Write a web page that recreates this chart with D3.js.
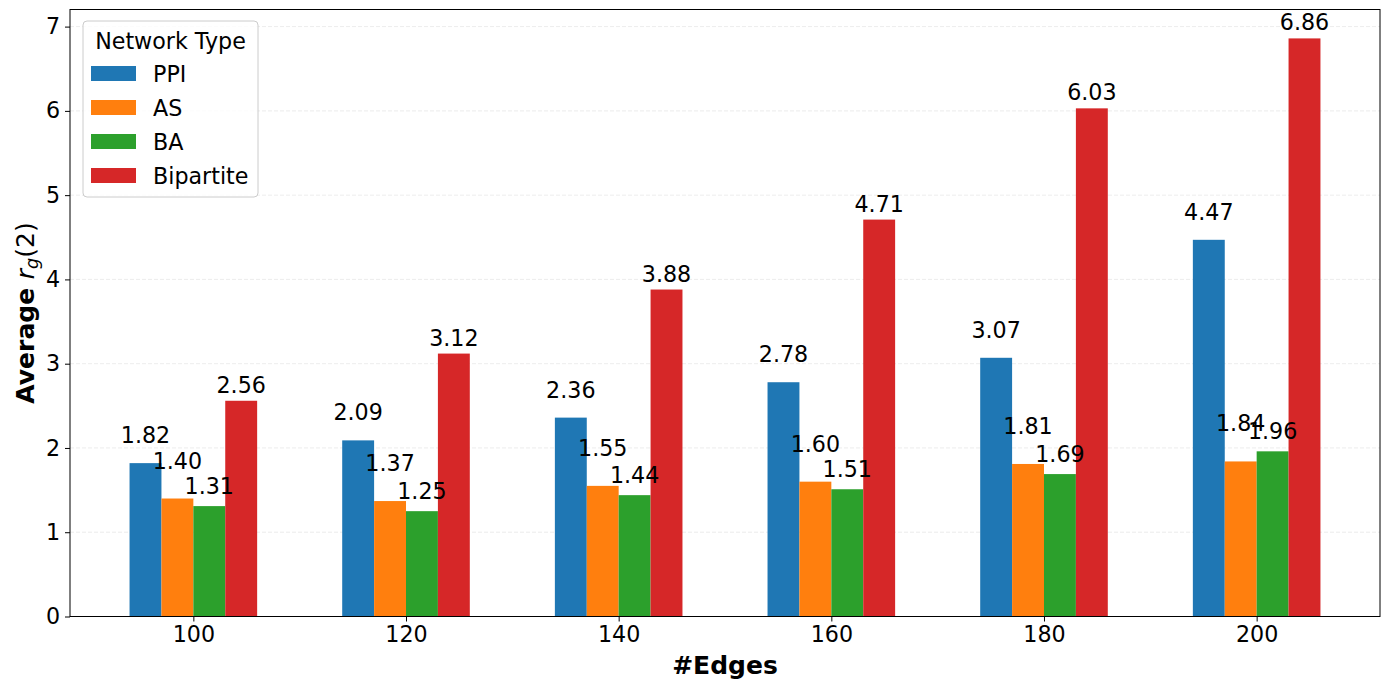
<!DOCTYPE html>
<html><head><meta charset="utf-8">
<script src="https://cdn.jsdelivr.net/npm/d3@7"></script>
<style>body{margin:0;background:#fff;} svg{display:block;font-family:"DejaVu Sans",sans-serif;}</style>
</head><body><svg id="chart" width="1389" height="688"></svg>
<script>
const categories = ["100","120","140","160","180","200"];
const seriesNames = ["PPI","AS","BA","Bipartite"];
const ppi = [1.82, 2.09, 2.36, 2.78, 3.07, 4.47];
const as_ = [1.40, 1.37, 1.55, 1.60, 1.81, 1.84];
const ba = [1.31, 1.25, 1.44, 1.51, 1.69, 1.96];
const bipartite = [2.56, 3.12, 3.88, 4.71, 6.03, 6.86];
const yTicks = [0,1,2,3,4,5,6,7];
const colors = ["#1f77b4","#ff7f0e","#2ca02c","#d62728"];
const labelOffsets = [20, 30, 12.5, 8];
const series = [ppi, as_, ba, bipartite];
const FS = 22.2;

const svg = d3.select("#chart");
const L = 70, R = 1380, T = 9.5, B = 616.5;
const barW = 0.15;
const x = d3.scaleLinear().domain([-0.58, 5.58]).range([L, R]);
const yMax = d3.max(series.flat()) * 1.05;
const y = d3.scaleLinear().domain([0, yMax]).range([B, T]);

// grid
svg.append("g").selectAll("line").data(yTicks).join("line")
  .attr("x1", L).attr("x2", R).attr("y1", d => y(d)).attr("y2", d => y(d))
  .attr("stroke", "#b0b0b0").attr("stroke-opacity", 0.3).attr("stroke-width", 0.8)
  .attr("stroke-dasharray", "4,2");

// bars
series.forEach((vals, si) => {
  const off = (si - 1.5) * barW;
  svg.append("g").selectAll("rect").data(vals).join("rect")
    .attr("x", (d, i) => x(i + off - barW / 2))
    .attr("width", (d, i) => x(i + off + barW / 2) - x(i + off - barW / 2))
    .attr("y", d => y(d)).attr("height", d => y(0) - y(d))
    .attr("fill", colors[si]);
});
series.forEach((vals, si) => {
  const off = (si - 1.5) * barW;
  svg.append("g").selectAll("text").data(vals).join("text")
    .attr("x", (d, i) => x(i + off)).attr("y", d => y(d) - labelOffsets[si])
    .attr("text-anchor", "middle").attr("font-size", FS).attr("fill", "#000")
    .text(d => d.toFixed(2));
});

// axes
const xAxis = d3.axisBottom(x).tickValues(d3.range(categories.length))
  .tickFormat(i => categories[i]).tickSize(5).tickPadding(5);
const gx = svg.append("g").attr("transform", `translate(0,${B})`).call(xAxis);
gx.select(".domain").remove();
gx.selectAll("text").attr("font-size", FS).attr("font-family", "DejaVu Sans").attr("fill", "#000");
gx.selectAll("line").attr("stroke", "#000");

const yAxis = d3.axisLeft(y).tickValues(yTicks).tickSize(5).tickPadding(5);
const gy = svg.append("g").attr("transform", `translate(${L},0)`).call(yAxis);
gy.select(".domain").remove();
gy.selectAll("text").attr("font-size", FS).attr("font-family", "DejaVu Sans").attr("fill", "#000");
gy.selectAll("line").attr("stroke", "#000");

svg.append("rect").attr("x", L).attr("y", T).attr("width", R - L).attr("height", B - T)
  .attr("fill", "none").attr("stroke", "#000").attr("stroke-width", 1);

// axis labels
svg.append("text").attr("x", (L + R) / 2).attr("y", 674).attr("text-anchor", "middle")
  .attr("font-size", 25).attr("font-weight", "bold").text("#Edges");
const yl = svg.append("text").attr("transform", `translate(34,${(T + B) / 2}) rotate(-90)`)
  .attr("text-anchor", "middle").attr("font-size", 25);
yl.append("tspan").attr("font-weight", "bold").text("Average ");
yl.append("tspan").attr("font-style", "italic").text("r");
yl.append("tspan").attr("font-style", "italic").attr("font-size", 17.5).attr("dy", 4).text("g");
yl.append("tspan").attr("dy", -4).text("(2)");

// legend
const lg = svg.append("g");
lg.append("rect").attr("x", 83).attr("y", 21).attr("width", 175).attr("height", 176)
  .attr("rx", 4).attr("fill", "#fff").attr("fill-opacity", 0.8).attr("stroke", "#cccccc");
lg.append("text").attr("x", 170.5).attr("y", 49).attr("text-anchor", "middle")
  .attr("font-size", FS).text("Network Type");
seriesNames.forEach((n, i) => {
  const yy = 66 + i * 34;
  lg.append("rect").attr("x", 91).attr("y", yy).attr("width", 45).attr("height", 15).attr("fill", colors[i]);
  lg.append("text").attr("x", 153).attr("y", yy + 15.5).attr("font-size", FS).text(n);
});
</script></body></html>
